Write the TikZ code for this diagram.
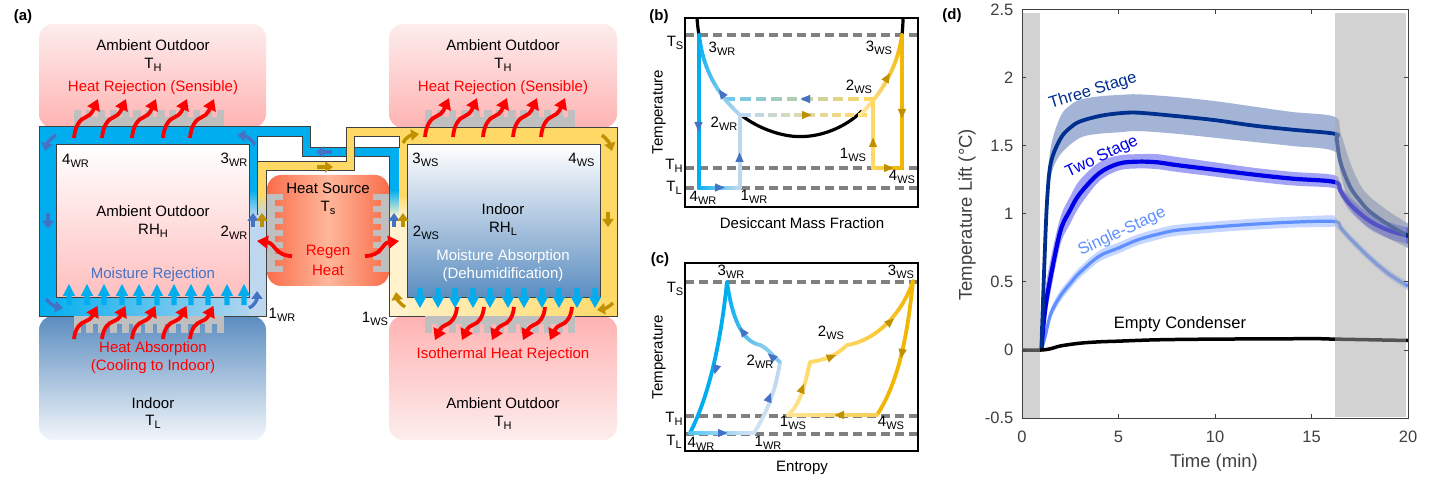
\documentclass[tikz,border=0pt]{standalone}
\usepackage{fontspec}
\setmainfont{Liberation Sans}
\usetikzlibrary{arrows.meta,calc}
\definecolor{fBlue}{HTML}{00AEEF}
\definecolor{fLBlue}{HTML}{BDD7EE}
\definecolor{fYel}{HTML}{FFD966}
\definecolor{fLYel}{HTML}{FFF2CC}
\definecolor{fGold}{HTML}{F2B705}
\definecolor{aBlue}{HTML}{4472C4}
\definecolor{aGold}{HTML}{BF9000}
\definecolor{edgeC}{HTML}{404040}
\definecolor{finC}{HTML}{BFBFBF}
\definecolor{skyB}{HTML}{5B8DC0}
\definecolor{pinkB}{HTML}{FFB3B3}
\definecolor{pinkT}{HTML}{FDEDED}
\definecolor{dashC}{HTML}{808080}
\definecolor{navyL}{HTML}{00308F}
\definecolor{twoL}{HTML}{0000E6}
\definecolor{oneL}{HTML}{6090FF}
\definecolor{bandC}{HTML}{A9A7A8}
\definecolor{tickC}{HTML}{404040}
\definecolor{srcE}{HTML}{F96E4B}
\definecolor{srcM}{HTML}{FFB69B}
\newcommand{\lsub}[1]{\raisebox{-0.4ex}{\fontsize{11}{12}\selectfont #1}}
\newcommand{\gc}[6]{%
  \foreach \i in {1,...,18}{%
    \pgfmathsetmacro\ga{(\i-1)/18}%
    \pgfmathsetmacro\gb{\i/18}%
    \pgfmathsetmacro\gp{100-\i*100/18}%
    \path #3 .. controls #4 and #5 .. #6 coordinate[pos=\ga] (gA) coordinate[pos=\gb] (gB);%
    \draw[cyc,color={#1!\gp!#2}] (gA) -- (gB);%
  }}
\newcommand{\gdash}[5]{%
  \foreach \i in {0,...,9}{%
    \pgfmathsetmacro\gx{#3+\i*(#4-#3)/9.6}%
    \pgfmathsetmacro\gp{100-\i*100/9}%
    \draw[line width=3.2pt,color={#1!\gp!#2}] (\gx,#5) -- ++({(#4-#3)/9.6*0.68},0);%
  }}
\newcommand{\headT}[4]{\fill[#1,shift={(#2,#3)},rotate=#4] (5.5,0) -- (-4,4.2) -- (-4,-4.2) -- cycle;}
\newcommand{\sarrow}[4]{\draw[heatarr,shift={(#1,#2)},xscale=#3,yscale=#4] (0,0) .. controls (1,-12) and (6,-19) .. (12,-21) .. controls (18,-23) and (20,-30) .. (24,-39);}
\newcommand{\combUp}[1]{\fill[finC] (#1,117) rectangle ({#1+150},127);
  \foreach \i in {0,...,12}{\fill[finC] ({#1+\i*11.88},110.5) rectangle ++(7.4,7);}}
\newcommand{\combDn}[1]{\fill[finC] (#1,316) rectangle ({#1+150},324);
  \foreach \i in {0,...,12}{\fill[finC] ({#1+\i*11.88},324) rectangle ++(7.4,9);}}
\tikzset{
  txt/.style={inner sep=0pt,align=center,font=\fontsize{15}{17}\selectfont},
  sm/.style={inner sep=0pt,align=center,font=\fontsize{15}{17}\selectfont},
  panel/.style={inner sep=0pt,font=\bfseries\fontsize{15}{17}\selectfont},
  redt/.style={txt,text=red},
  tick/.style={inner sep=0pt,font=\fontsize{16.5}{18}\selectfont,text=tickC},
  axl/.style={inner sep=0pt,font=\fontsize{18.5}{20}\selectfont,text=tickC},
  edge/.style={draw=edgeC,line width=1pt},
  heatarr/.style={draw=red,line width=3.8pt,-{Triangle[width=13pt,length=11pt]}},
  procB/.style={draw=aBlue,line width=3.4pt,-{Triangle[width=11pt,length=8pt]}},
  procG/.style={draw=aGold,line width=3.4pt,-{Triangle[width=11pt,length=8pt]}},
  cyc/.style={line width=3.8pt,line cap=round},
  dashl/.style={draw=dashC,line width=3.4pt,dash pattern=on 9pt off 5pt},
  frameb/.style={draw=black,line width=1.5pt},
  smoothp/.style={smooth,tension=.55},
}
\begin{document}
\begin{tikzpicture}[x=1pt,y=-1pt]
\useasboundingbox (0,0) rectangle (1456,486);
\fill[white] (0,0) rectangle (1456,486);
% ---------- (a) ambient boxes
\shade[top color=pinkT,bottom color=pinkB,rounded corners=14pt] (39,24) rectangle (266,128);
\shade[top color=pinkT,bottom color=pinkB,rounded corners=14pt] (389,24) rectangle (617,128);
\shade[top color=skyB,bottom color=white!92!skyB,rounded corners=14pt] (39,316) rectangle (266,440);
\shade[top color=pinkB,bottom color=pinkT,rounded corners=14pt] (389,316) rectangle (617,440);
\combUp{74}\combUp{425}
% blue channel
\fill[fBlue] (39,127) -- (310,127) -- (310,148) -- (399,148) -- (399,215) -- (390,215) -- (390,157) -- (302,157) -- (302,137) -- (257,137) -- (257,215) -- (249,215) -- (249,145) -- (56,145) -- (56,316) -- (39,316) -- cycle;
% white gaps
\fill[white] (257,137) -- (302,137) -- (302,157) -- (346,157) -- (346,162) -- (257,162) -- cycle;
\fill[white] (354,137) rectangle (399,148);
% yellow channel
\fill[fYel] (346,127.5) -- (617,127.5) -- (617,316) -- (600,316) -- (600,145) -- (407,145) -- (407,215) -- (399,215) -- (399,137) -- (354,137) -- (354,171) -- (266,171) -- (266,215) -- (257,215) -- (257,162) -- (346,162) -- cycle;
% lower parts
\shade[left color=fBlue,right color=fLBlue] (39,298) rectangle (266,316);
\fill[fLBlue] (249,215) rectangle (266,316);
\shade[top color=fBlue,bottom color=fLBlue] (249,190) rectangle (257.5,216);
\shade[top color=fYel,bottom color=fLBlue] (257.5,195) rectangle (266,216);
\shade[left color=fLYel,right color=fYel] (389,298) rectangle (617,316);
\fill[fLYel] (389,215) rectangle (407,316);
\shade[top color=fBlue,bottom color=fLYel] (390,190) rectangle (399,216);
\shade[top color=fYel,bottom color=fLYel] (399,195) rectangle (407,216);
% windows
\shade[top color=white,bottom color=pinkB!85!white,draw=edgeC,line width=1pt] (56,145) rectangle (249,298);
\shade[top color=white,bottom color=skyB,draw=edgeC,line width=1pt] (407,145) rectangle (600,298);
% outlines
\draw[edge] (346,148) -- (310,148) -- (310,127) -- (39,127) -- (39,316) -- (266,316) -- (266,171) -- (354,171) -- (354,137) -- (399,137) -- (399,148) -- (354,148);
\draw[edge] (257,215) -- (257,137) -- (302,137) -- (302,157) -- (346,157);
\draw[edge] (257,162) -- (346,162) -- (346,127.5) -- (617,127.5) -- (617,316) -- (389,316) -- (389,157) -- (354,157);
\combDn{74}\combDn{425}
% heat source
\shade[rounded corners=14pt,left color=srcE,right color=srcE,middle color=srcM] (267,175) rectangle (389,286);
\fill[finC] (267,194) rectangle (275,272);
\fill[finC] (381,194) rectangle (389,272);
\foreach \i in {0,...,6}{
  \fill[finC] (275,{194+\i*12}) rectangle ++(8,6);
  \fill[finC] (381,{194+\i*12}) rectangle ++(-8,6);
}
% blue up / down arrows
\foreach \x in {69,87,104,122,139,157,174,191,208,227,244}{
  \fill[fBlue,shift={(\x,0)}] (0,284) -- (6.2,296) -- (2.6,296) -- (2.6,305) -- (-2.6,305) -- (-2.6,296) -- (-6.2,296) -- cycle;}
\foreach \x in {420,438,455,473,490,508,524,542,559,577,595}{
  \fill[fBlue,shift={(\x,0)}] (0,308) -- (6.2,297) -- (2.6,297) -- (2.6,288) -- (-2.6,288) -- (-2.6,297) -- (-6.2,297) -- cycle;}
% heat arrows
\foreach \x in {74,102,132,163,190}{\sarrow{\x}{138}{1}{1}}
\foreach \x in {74,102,132,163,190}{\sarrow{\x}{339}{0.98}{0.85}}
\foreach \x in {425,453,483,513,541}{\sarrow{\x}{137}{1}{1}}
\foreach \x in {457,484,514,545,572}{\sarrow{\x}{307}{-0.92}{-0.85}}
\draw[heatarr] (292,256) .. controls (275,256) and (275,243) .. (257,241);
\draw[heatarr] (365,256) .. controls (382,256) and (382,243) .. (399,241);
% process arrows
\draw[procB] (56,135) .. controls (51,138) and (47,143) .. (45,151);
\draw[procB] (48,213) -- (48,229);
\draw[procB] (255,145) .. controls (252,139) and (246,136) .. (237,135);
\draw[procB] (332,152) -- (316,152);
\draw[procG] (317,167) -- (333,167);
\draw[procB] (253,227) -- (253,213);
\draw[procG] (262,227) -- (262,213);
\draw[procB] (394,227) -- (394,213);
\draw[procG] (403,227) -- (403,213);
\draw[procB] (46,299) .. controls (50,304) and (56,307) .. (63,308);
\draw[procB] (249,308) .. controls (254,306) and (257,300) .. (257,291);
\draw[procG] (403,143) .. controls (405,138) and (411,135) .. (419,134);
\draw[procG] (602,135) .. controls (607,139) and (610,144) .. (612,151);
\draw[procG] (608,212) -- (608,227);
\draw[procG] (613,303) .. controls (609,307) and (604,309) .. (597,310);
\draw[procG] (405,307) .. controls (400,304) and (397,299) .. (396,292);
% (a) text
\node[panel] (la) at (23,17) {(a)};
\node[txt] (ao1) at (153,45) {Ambient Outdoor};
\node[txt] (th1) at (153,65) {T\lsub{H}};
\node[redt] (hr1) at (153,88) {Heat Rejection (Sensible)};
\node[txt] (ao2) at (503,45) {Ambient Outdoor};
\node[txt] (th2) at (503,65) {T\lsub{H}};
\node[redt] (hr2) at (503,88) {Heat Rejection (Sensible)};
\node[txt] (w4) at (75.5,161) {4\lsub{WR}};
\node[txt] (w3) at (234,160) {3\lsub{WR}};
\node[txt] (w2) at (234,233) {2\lsub{WR}};
\node[txt] (w1) at (282,315) {1\lsub{WR}};
\node[txt] (ao3) at (153,211) {Ambient Outdoor};
\node[txt] (rh1) at (153,231) {RH\lsub{H}};
\node[txt,text=aBlue] (mr) at (153,275) {Moisture Rejection};
\node[redt] (ha) at (153,349) {Heat Absorption};
\node[redt] (ci) at (153,367) {(Cooling to Indoor)};
\node[txt] (in1) at (153,403) {Indoor};
\node[txt] (tl1) at (153,422) {T\lsub{L}};
\node[txt] (hs) at (328,188) {Heat Source};
\node[txt] (ts) at (328,208) {T\lsub{s}};
\node[redt] (rg) at (328,252) {Regen};
\node[redt] (ht) at (328,270) {Heat};
\node[txt] (s3) at (425.5,160) {3\lsub{WS}};
\node[txt] (s4) at (581.5,160) {4\lsub{WS}};
\node[txt] (s2) at (426,233) {2\lsub{WS}};
\node[txt] (s1) at (375,319) {1\lsub{WS}};
\node[txt] (in2) at (503,209) {Indoor};
\node[txt] (rh2) at (503,229) {RH\lsub{L}};
\node[txt,text=white] (ma) at (503,257) {Moisture Absorption};
\node[txt,text=white] (de) at (503,275) {(Dehumidification)};
\node[redt] (ih) at (503,355) {Isothermal Heat Rejection};
\node[txt] (ao4) at (503,403) {Ambient Outdoor};
\node[txt] (th4) at (503,423) {T\lsub{H}};
% ---------- (b)
\node[panel] (lb) at (659,17) {(b)};
\draw[dashl] (685,35) -- (918,35);
\draw[dashl] (685,168) -- (918,168);
\draw[dashl] (685,188) -- (918,188);
\draw[line width=3.2pt,black] (697,18) .. controls (697.5,24) and (698,30) .. (699,35);
\draw[line width=3.2pt,black] (903,18) .. controls (903,24) and (902.5,30) .. (902,35);
\draw[line width=3.2pt,black] (741,115) .. controls (760,130) and (785,137) .. (800,136.5) .. controls (820,137) and (845,128) .. (862,111);
\gdash{fLBlue!60!fBlue}{fYel}{725}{873}{99}
\gdash{fLBlue}{fYel}{742}{866}{115}
\gc{fBlue}{fBlue}{(699,35)}{(699,80)}{(699,140)}{(699,188)}
\gc{fBlue}{fLBlue}{(699,188)}{(713,188)}{(727,188)}{(740,188)}
\draw[cyc,fLBlue] (740,188) -- (740,115);
\gc{fLBlue}{fBlue}{(740,115)}{(718,95)}{(703,70)}{(699,35)}
\gc{fLYel!60!fYel}{fGold}{(860,115)}{(880,95)}{(897,70)}{(902,35)}
\draw[cyc,fGold] (902,35) -- (902,168);
\gc{fYel}{fGold}{(873,168)}{(883,168)}{(892,168)}{(902,168)}
\draw[cyc,fYel] (873,168) -- (873,99);
\headT{aBlue}{698.5}{126}{-90}
\headT{aBlue}{719}{187.5}{0}
\headT{aBlue}{739.5}{158}{90}
\headT{aBlue}{722}{94}{125}
\headT{aBlue}{806}{99}{180}
\headT{aGold}{806}{115}{0}
\headT{aGold}{887}{78}{60}
\headT{aGold}{902}{113}{-90}
\headT{aGold}{873}{143}{90}
\headT{aGold}{888}{168}{0}
\draw[frameb] (685,18) rectangle (918,207);
\node[sm] (bts) at (675,43) {T\lsub{S}};
\node[sm] (bth) at (674,166) {T\lsub{H}};
\node[sm] (btl) at (674,188) {T\lsub{L}};
\node[sm,rotate=90] (byl) at (659,112) {Temperature};
\node[sm] (bxl) at (802,223) {Desiccant Mass Fraction};
\node[sm] (b3r) at (722,49) {3\lsub{WR}};
\node[sm] (b2r) at (724,124) {2\lsub{WR}};
\node[sm] (b4r) at (703,198) {4\lsub{WR}};
\node[sm] (b1r) at (754,197) {1\lsub{WR}};
\node[sm] (b3s) at (879,48) {3\lsub{WS}};
\node[sm] (b2s) at (859,87) {2\lsub{WS}};
\node[sm] (b1s) at (853,155) {1\lsub{WS}};
\node[sm] (b4s) at (902,177) {4\lsub{WS}};
% ---------- (c)
\node[panel] (lc) at (660,260) {(c)};
\draw[dashl] (685,282) -- (918,282);
\draw[dashl] (685,416) -- (918,416);
\draw[dashl] (685,434) -- (918,434);
\gc{fBlue}{fBlue}{(727,282)}{(722,330)}{(712,390)}{(690,433)}
\gc{fBlue}{fLBlue!70!white}{(690,433)}{(711,433)}{(733,433)}{(754,433)}
\gc{fLBlue!70!white}{fLBlue}{(754,433)}{(765,415)}{(775,395)}{(780,362)}
\gc{fLBlue}{fLBlue!70!fBlue}{(780,362)}{(772,355)}{(767,348)}{(760,345)}
\gc{fLBlue!70!fBlue}{fBlue}{(760,345)}{(745,342)}{(733,325)}{(727,282)}
\gc{fYel!70!white}{fYel}{(788,415)}{(800,405)}{(805,385)}{(810,362)}
\gc{fYel}{fYel}{(810,362)}{(825,360)}{(837,355)}{(847,345)}
\gc{fYel}{fGold}{(847,345)}{(870,342)}{(900,320)}{(913,281)}
\gc{fGold}{fGold}{(913,281)}{(908,330)}{(900,380)}{(877,415)}
\gc{fGold}{fYel!70!white}{(877,415)}{(848,415)}{(818,415)}{(788,415)}
\headT{aBlue}{716}{369}{-105}
\headT{aBlue}{722}{433}{0}
\headT{aBlue}{769}{398}{70}
\headT{aBlue}{743}{332}{125}
\headT{aBlue}{772}{357}{140}
\headT{aGold}{802}{389}{70}
\headT{aGold}{831}{357}{20}
\headT{aGold}{890}{322}{40}
\headT{aGold}{902}{353}{-100}
\headT{aGold}{840}{415}{180}
\draw[frameb] (685,263) rectangle (918,451);
\node[sm] (cts) at (675,289) {T\lsub{S}};
\node[sm] (cth) at (674,419) {T\lsub{H}};
\node[sm] (ctl) at (674,442) {T\lsub{L}};
\node[sm,rotate=90] (cyl) at (659,357) {Temperature};
\node[sm] (cxl) at (802,468) {Entropy};
\node[sm] (c3r) at (731,272) {3\lsub{WR}};
\node[sm] (c2r) at (760,362) {2\lsub{WR}};
\node[sm] (c4r) at (701,444) {4\lsub{WR}};
\node[sm] (c1r) at (768,443) {1\lsub{WR}};
\node[sm] (c3s) at (901,272) {3\lsub{WS}};
\node[sm] (c2s) at (831,333) {2\lsub{WS}};
\node[sm] (c1s) at (793,423) {1\lsub{WS}};
\node[sm] (c4s) at (891,423) {4\lsub{WS}};
% ---------- (d)
\node[panel] (ld) at (952,16) {(d)};
\begin{scope}[shift={(1022,350)},x=19.3pt,y=136pt]
\fill[navyL,opacity=.36] plot[smoothp] coordinates {(1,0) (1.15,.7) (1.3,1.2) (1.5,1.5) (2,1.72) (2.5,1.8) (3,1.84) (4,1.865) (5,1.875) (6,1.88) (8,1.86) (10,1.83) (12,1.79) (14,1.75) (16.2,1.715) (16.5,1.6) (17,1.38) (17.5,1.22) (18,1.13) (19,1.02) (20,.93)}
 -- plot[smoothp] coordinates {(20,.75) (19,.82) (18,.9) (17.5,.96) (17,1.05) (16.5,1.3) (16.2,1.46) (14,1.5) (12,1.53) (10,1.56) (8,1.59) (6,1.61) (5,1.6) (4,1.59) (3,1.56) (2,1.44) (1.5,1.28) (1.3,1.0) (1.15,.5) (1,0)} -- cycle;
\fill[twoL,opacity=.36] plot[smoothp] coordinates {(1,0) (1.2,.42) (1.5,.68) (2,.98) (2.5,1.13) (3,1.25) (4,1.38) (5,1.43) (6,1.44) (7,1.44) (8,1.42) (10,1.38) (12,1.34) (14,1.31) (16.2,1.285) (16.5,1.21) (17,1.12) (18,1.0) (19,.94) (20,.9)}
 -- plot[smoothp] coordinates {(20,.78) (19,.82) (18,.89) (17,1.02) (16.5,1.13) (16.2,1.19) (14,1.21) (12,1.24) (10,1.275) (8,1.31) (7,1.33) (6,1.335) (5,1.32) (4,1.24) (3,1.06) (2.5,.93) (2,.78) (1.5,.44) (1.2,.2) (1,0)} -- cycle;
\fill[oneL,opacity=.36] plot[smoothp] coordinates {(1,0) (1.2,.12) (1.5,.31) (2,.44) (2.5,.53) (3,.61) (4,.73) (5,.79) (6,.85) (7,.89) (8,.92) (10,.945) (12,.965) (14,.98) (16,.99) (16.2,.98) (16.5,.93) (17,.85) (18,.71) (19,.59) (20,.5)}
 -- plot[smoothp] coordinates {(20,.44) (19,.53) (18,.65) (17,.79) (16.5,.87) (16.2,.91) (16,.905) (14,.9) (12,.885) (10,.865) (8,.84) (7,.81) (6,.77) (5,.71) (4,.65) (3,.53) (2.5,.45) (2,.36) (1.5,.23) (1.2,.08) (1,0)} -- cycle;
\draw[oneL,line width=3.2pt] plot[smoothp] coordinates {(1,0) (1.2,.1) (1.5,.27) (2,.4) (2.5,.49) (3,.57) (4,.69) (5,.75) (6,.81) (7,.85) (8,.88) (10,.905) (12,.925) (14,.94) (16.2,.945) (16.5,.9) (17,.82) (18,.68) (19,.56) (20,.47)};
\draw[twoL,line width=4.2pt] plot[smoothp] coordinates {(1,0) (1.2,.3) (1.5,.55) (2,.88) (2.5,1.03) (3,1.15) (4,1.3) (5,1.37) (6,1.385) (7,1.38) (8,1.36) (10,1.325) (12,1.29) (14,1.26) (16.2,1.235) (16.5,1.17) (17,1.07) (18,.95) (19,.88) (20,.84)};
\draw[navyL,line width=3.8pt] plot[smoothp] coordinates {(1,0) (1.15,.6) (1.3,1.1) (1.5,1.38) (2,1.556) (2.5,1.635) (3,1.68) (4,1.72) (5,1.74) (6,1.745) (8,1.72) (10,1.69) (12,1.65) (14,1.62) (16.2,1.59) (16.3,1.55) (16.5,1.38) (17,1.2) (17.5,1.1) (18,1.02) (19,.92) (20,.84)};
\draw[black,line width=3.5pt] plot[smoothp] coordinates {(0,0) (1,0) (1.5,.01) (2,.03) (3,.05) (4,.06) (5,.065) (7,.075) (10,.08) (15,.083) (16.2,.08) (20,.07)};
\fill[bandC,opacity=.5] (0.05,-.5) rectangle (.95,2.48);
\fill[bandC,opacity=.5] (16.2,-.49) rectangle (19.9,2.48);
\end{scope}
% axes of (d)
\draw[tickC,line width=1pt] (1022,10) rectangle (1408,418);
\foreach \t in {0,5,10,15,20}{
  \draw[tickC,line width=1pt] ({1022+\t*19.3},418) -- ++(0,-4);
  \draw[tickC,line width=1pt] ({1022+\t*19.3},10) -- ++(0,4);
  \node[tick] at ({1022+\t*19.3},437) {\t};
}
\foreach \v in {-0.5,0,0.5,1,1.5,2,2.5}{
  \draw[tickC,line width=1pt] (1022,{350-\v*136}) -- ++(4,0);
  \draw[tickC,line width=1pt] (1408,{350-\v*136}) -- ++(-4,0);
}
\foreach \v/\s in {-0.5/-0.5,0/0,0.5/0.5,1/1,1.5/1.5,2/2,2.5/2.5}{
  \node[tick,anchor=east] at (1013.5,{350-\v*136}) {\s};
}
\node[axl] (dxl) at (1214,463) {Time (min)};
\node[axl,rotate=90] (dyl) at (967,215) {Temperature Lift (°C)};
\node[tick,text=navyL,rotate=17] (l3) at (1093,91) {Three Stage};
\node[tick,text=twoL,rotate=25] (l2) at (1102,157) {Two Stage};
\node[tick,text=oneL,rotate=25] (l1) at (1122,232) {Single-Stage};
\node[tick,text=black] (l0) at (1180,324) {Empty Condenser};
\end{tikzpicture}
\end{document}
